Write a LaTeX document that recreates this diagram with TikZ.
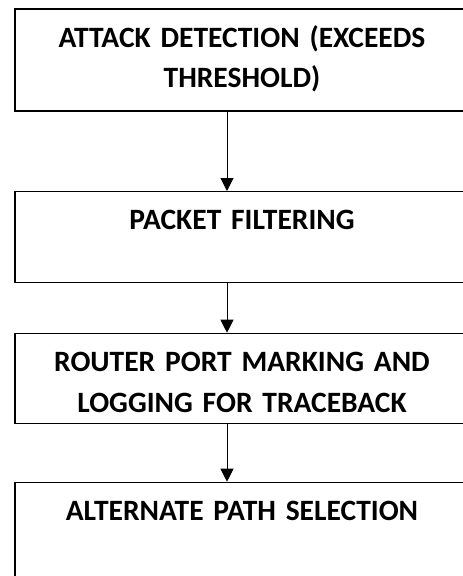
\documentclass[tikz,border=0pt]{standalone}
\usepackage{fontspec}
\setmainfont{Carlito}
\usetikzlibrary{arrows.meta}

\tikzset{
  stage/.style={draw, line width=1.4pt, anchor=north, minimum width=454pt,
    text width=420pt, align=center, inner sep=0pt, text height=38pt,
    font=\fontsize{29.5}{40.7}\selectfont\bfseries},
  flow/.style={-{Triangle[width=13pt,length=13pt]}, line width=1pt}
}

\begin{document}
\begin{tikzpicture}[x=1pt,y=-1pt]
      \useasboundingbox (0,0) rectangle (463,576);
      \clip (0,0) rectangle (463,576);

      \node[stage, text depth=64pt] (detect) at (242,8.3)
        {ATTACK DETECTION (EXCEEDS\\ THRESHOLD)};
      \node[stage, text depth=53pt] (filter) at (242,191)
        {PACKET FILTERING};
      \node[stage, text depth=52pt] (mark) at (242,332.7)
        {ROUTER PORT MARKING AND\\ LOGGING FOR TRACEBACK};
      \node[stage, text depth=80pt] (alt) at (242,481.7)
        {ALTERNATE PATH SELECTION};

      \coordinate (axis) at (227,0);
      \draw[flow] (detect.south -| axis) -- (filter.north -| axis);
      \draw[flow] (filter.south -| axis) -- (mark.north -| axis);
      \draw[flow] (mark.south -| axis) -- (alt.north -| axis);
    \end{tikzpicture}
\end{document}
